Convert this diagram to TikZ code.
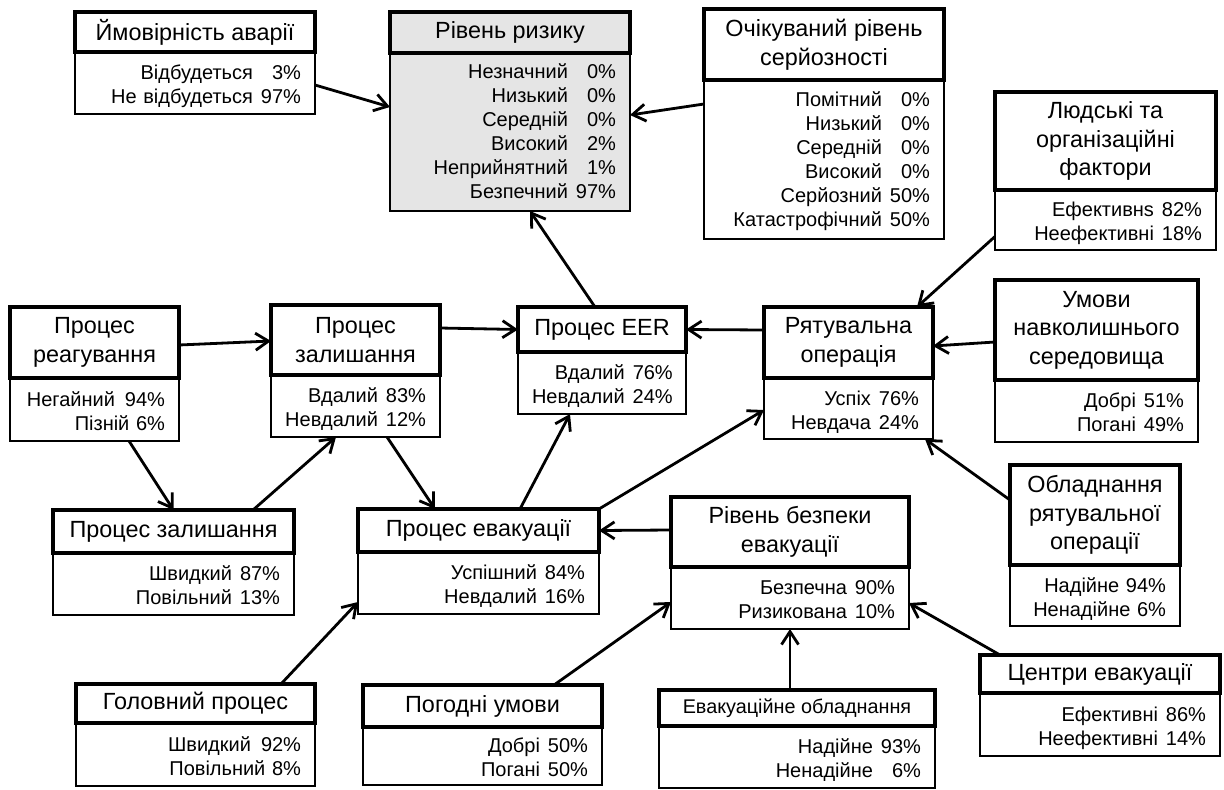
\documentclass[tikz,border=0pt]{standalone}
\usepackage{fontspec}
\setmainfont{Liberation Sans}
\usetikzlibrary{arrows.meta,calc}
\definecolor{riskgray}{gray}{0.9}
\tikzset{
  hdr/.style={draw, line width=4.4pt, fill=white, align=center, inner sep=0pt,
    outer sep=0pt, font=\fontsize{23.4}{28.5}\selectfont},
  bdy/.style={draw, line width=1.8pt, fill=white, align=right, inner xsep=14pt,
    inner ysep=0pt, outer sep=0pt, font=\fontsize{20}{24}\selectfont},
  link/.style={line width=2.8pt, -{Straight Barb[length=13pt,width=17pt]}},
}
% #1 name, #2 x, #3 y, #4 width, #5 header height, #6 body height,
% #7 extra style, #8 header text, #9 state table
\newcommand\bnbox[9]{%
  \node[bdy,#7,minimum width=#4pt,minimum height=#6pt,text width=#4pt-28pt,
        anchor=north west] (#1b) at (#2,#3+#5) {#9};
  \node[hdr,#7,minimum width=#4pt,minimum height=#5pt,anchor=north west]
        (#1h) at (#2,#3) {#8};
}
% states with their probabilities: labels and numbers in two right-aligned columns
\newcommand\tbl[2][4pt]{\raisebox{-#1}[\height][\depth]{%
  \begin{tabular}{@{}r@{\hspace{8pt}}r@{}}#2\end{tabular}}}
% states written as whole right-aligned lines
\newcommand\rtbl[2][4pt]{\raisebox{-#1}[\height][\depth]{%
  \begin{tabular}{@{}r@{}}#2\end{tabular}}}
\begin{document}
\begin{tikzpicture}[x=1pt,y=-1pt]
\useasboundingbox (0,0) rectangle (1224,790);
\fill[white] (0,0) rectangle (1224,790);

\bnbox{P1}{75}{12}{240}{40}{62}{}{Ймовірність аварії}
  {\tbl{Відбудеться & 3\%\\ Не відбудеться & 97\%}}
\bnbox{P2}{390}{12}{240}{41}{158}{fill=riskgray}{Рівень ризику}
  {\tbl[2pt]{Незначний & 0\%\\ Низький & 0\%\\ Середній & 0\%\\ Високий & 2\%\\
        Неприйнятний & 1\%\\ Безпечний & 97\%}}
\bnbox{P3}{704}{9}{240}{71}{159}{}{Очікуваний рівень\\серйозності}
  {\tbl[2pt]{Помітний & 0\%\\ Низький & 0\%\\ Середній & 0\%\\ Високий & 0\%\\
        Серйозний & 50\%\\ Катастрофічний & 50\%}}
\bnbox{P4}{995}{92}{221}{98}{60}{}{Людські та\\організаційні\\фактори}
  {\tbl{Ефективнs & 82\%\\ Неефективні & 18\%}}
\bnbox{P5}{10}{307}{169}{71}{63}{}{Процес\\реагування}
  {\rtbl{Негайний\hspace{10pt}94\%\\ Пізній 6\%}}
\bnbox{P6}{271}{305}{169}{70}{62}{}{Процес\\залишання}
  {\tbl{Вдалий & 83\%\\ Невдалий & 12\%}}
\bnbox{P7}{53}{510}{241}{43}{62}{}{Процес залишання}
  {\tbl{Швидкий & 87\%\\ Повільний & 13\%}}
\bnbox{P8}{518}{307}{168}{45}{62}{}{Процес EER}
  {\tbl{Вдалий & 76\%\\ Невдалий & 24\%}}
\bnbox{P9}{764}{307}{169}{71}{61}{}{Рятувальна\\операція}
  {\tbl{Успіх & 76\%\\ Невдача & 24\%}}
\bnbox{P10}{995}{280}{203}{100}{62}{}{Умови\\навколишнього\\середовища}
  {\tbl{Добрі & 51\%\\ Погані & 49\%}}
\bnbox{P11}{1010}{465}{170}{100}{61}{}{Обладнання\\рятувальної\\операції}
  {\rtbl{Надійне 94\%\\ Ненадійне 6\%}}
\bnbox{P12}{358}{509}{241}{43}{62}{}{Процес евакуації}
  {\tbl{Успішний & 84\%\\ Невдалий & 16\%}}
\bnbox{P13}{671}{497}{238}{70}{62}{}{Рівень безпеки\\евакуації}
  {\tbl{Безпечна & 90\%\\ Ризикована & 10\%}}
\bnbox{P14}{363}{685}{239}{42}{58}{}{Погодні умови}
  {\tbl{Добрі & 50\%\\ Погані & 50\%}}
\bnbox{P15}{659}{690}{276}{36}{62}{}{\fontsize{19.8}{24}\selectfont Евакуаційне обладнання}
  {\tbl{Надійне & 93\%\\ Ненадійне & 6\%}}
\bnbox{P16}{980}{655}{240}{38}{63}{}{Центри евакуації}
  {\tbl{Ефективні & 86\%\\ Неефективні & 14\%}}
\bnbox{P17}{76}{684}{239}{39}{63}{}{Головний процес}
  {\rtbl{Швидкий\hspace{10pt}92\%\\ Повільний 8\%}}

% influences between the nodes
\draw[link] ([yshift=-2pt]P1b.east) -- ([yshift=25pt]P2b.west);
\draw[link] ([yshift=55.5pt]P3b.west) -- ([yshift=17pt]P2b.east);
\draw[link] ([xshift=-7pt]P8h.north) -- ([xshift=20pt]P2b.south);
\draw[link] ([yshift=12.5pt]P9h.west) -- (P8h.east);
\draw[link] ([yshift=12pt]P6h.east) -- (P8h.west);
\draw[link] ([yshift=-2.5pt]P5h.east) -- ([yshift=-1pt]P6h.west);
\draw[link] ([xshift=34.5pt]P5b.south) -- (P7h.north);
\draw[link] ([xshift=79.5pt]P7h.north) -- ([xshift=-19.5pt]P6b.south);
\draw[link] ([xshift=31.5pt]P6b.south) -- ([xshift=-43.5pt]P12h.north);
\draw[link] ([xshift=41.5pt]P12h.north) -- ([xshift=-32pt]P8b.south);
\draw[link] (P12h.north east) -- ([yshift=-1.5pt]P9b.west);
\draw[link] ([yshift=2pt]P13h.west) -- (P12h.east);
\draw[link] ([xshift=85.5pt]P17h.north) -- ([yshift=-19pt]P12b.west);
\draw[link] ([xshift=71.5pt]P14h.north) -- ([yshift=-4pt]P13b.west);
\draw[link] ([xshift=-7pt]P15h.north) -- (P13b.south);
\draw[link] ([xshift=20pt]P16h.north west) -- ([yshift=-5pt]P13b.east);
\draw[link] ([yshift=15pt]P11h.west) -- ([xshift=76.5pt]P9b.south);
\draw[link] ([yshift=-12pt]P10h.west) -- ([yshift=-3.5pt]P9h.east);
\draw[link] ([yshift=-16.5pt]P4b.west) -- ([xshift=68.5pt]P9h.north);
\end{tikzpicture}
\end{document}
